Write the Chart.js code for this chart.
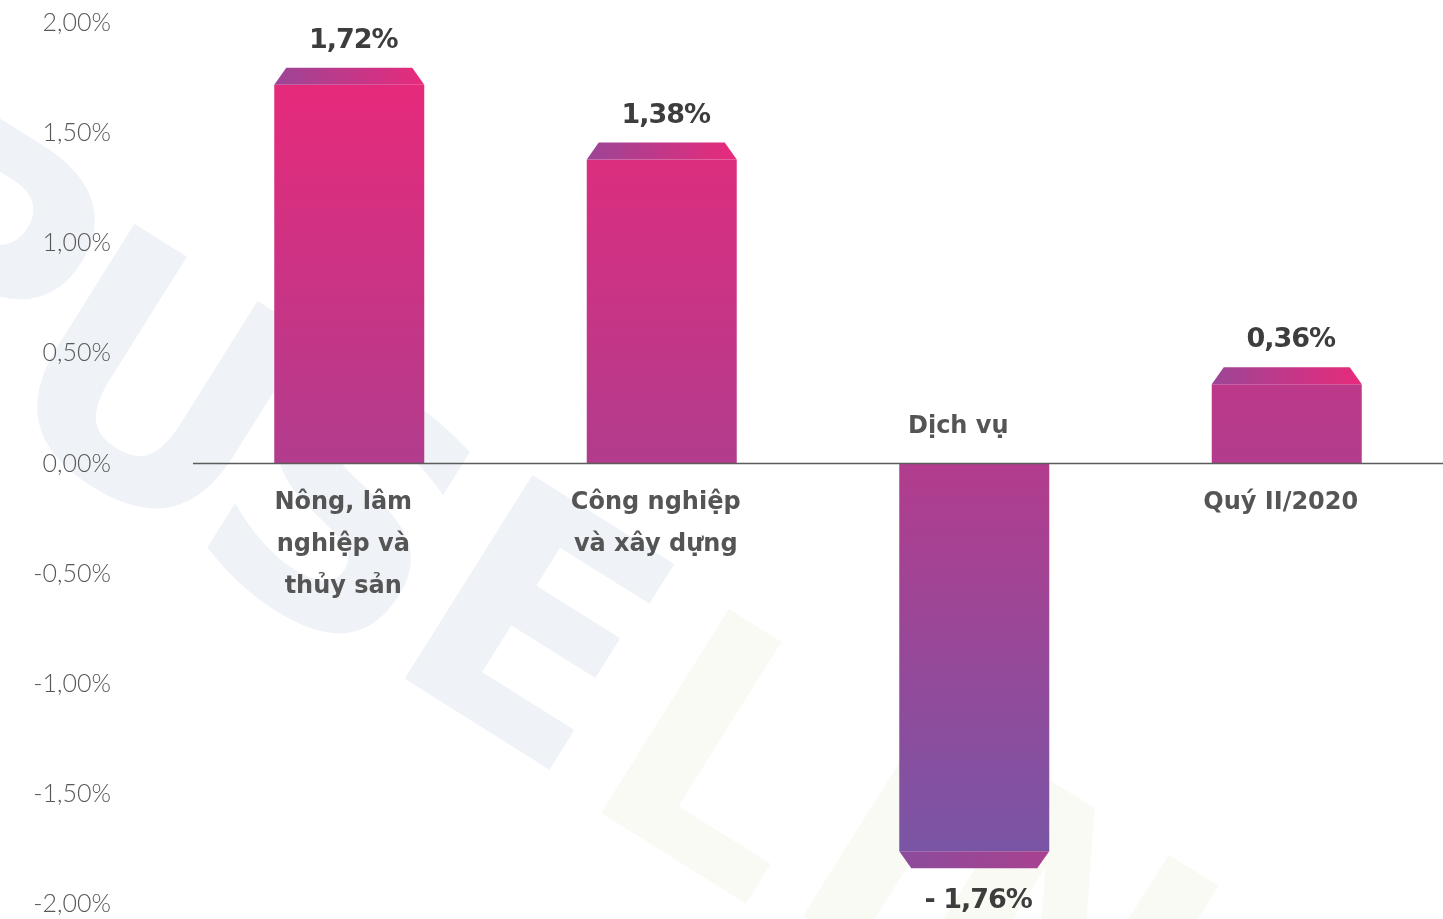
<!DOCTYPE html>
<html>
<head>
<meta charset="utf-8">
<script src="https://cdn.jsdelivr.net/npm/chart.js@4.4.1/dist/chart.umd.min.js"></script>
<style>
  html, body { margin: 0; padding: 0; background: #fff; }
  #wrap { width: 1443px; height: 919px; position: relative; }
</style>
</head>
<body>
<div id="wrap"><canvas id="chart"></canvas></div>
<script>
// Data
const categories = [
    ["Nông, lâm", "nghiệp và", "thủy sản"],
    ["Công nghiệp", "và xây dựng"],
    ["Dịch vụ"],
    ["Quý II/2020"]
]
const growth = [1.72, 1.38, -1.76, 0.36]
const yTicks = [-2, -1.5, -1, -0.5, 0, 0.5, 1, 1.5, 2]

const fmt = (v) => v.toFixed(2).replace(".", ",") + "%"
const fmtValue = (v) => (v < 0 ? "- " : "") + Math.abs(v).toFixed(2).replace(".", ",") + "%"

//Faint logo letters in the background
const watermark = {
    id: "watermark",
    beforeDraw(chart) {
        const ctx = chart.ctx
        const letters = [
            ["P", -50, 270, "#eff3f7"],
            ["U", 140, 410, "#eff3f7"],
            ["S", 325, 535, "#eff3f7"],
            ["E", 520, 650, "#eff3f7"],
            ["L", 710, 780, "#f9faf3"],
            ["I", 875, 860, "#f9faf3"],
            ["N", 1045, 960, "#f9faf3"]
        ]
        ctx.save()
        ctx.font = "bold 330px 'DejaVu Sans'"
        ctx.textAlign = "center"
        ctx.textBaseline = "middle"
        for (let [ch, x, y, col] of letters) {
            ctx.save()
            ctx.translate(x, y)
            ctx.rotate(0.56)
            ctx.fillStyle = col
            ctx.fillText(ch, 0, 0)
            ctx.restore()
        }
        ctx.restore()
    }
}

//Zero line, bar caps, value labels and category labels
const decorations = {
    id: "decorations",
    afterDatasetsDraw(chart) {
        const ctx = chart.ctx
        const area = chart.chartArea
        const yScale = chart.scales.y
        const zeroY = yScale.getPixelForValue(0)
        const meta = chart.getDatasetMeta(0)

        ctx.save()
        ctx.strokeStyle = "#5c5c5c"
        ctx.lineWidth = 1.5
        ctx.beginPath()
        ctx.moveTo(area.left, zeroY)
        ctx.lineTo(area.right, zeroY)
        ctx.stroke()

        const capH = 17
        const inset = 12
        meta.data.forEach((bar, i) => {
            const v = growth[i]
            const left = bar.x - bar.width / 2
            const right = bar.x + bar.width / 2
            const dir = v >= 0 ? -1 : 1
            const edge = bar.y
            const outer = edge + dir * capH

            let g = ctx.createLinearGradient(left, 0, right, 0)
            if (v >= 0) {
                g.addColorStop(0, "#9c4596")
                g.addColorStop(1, "#e82a7b")
            } else {
                g.addColorStop(0, "#8c4b9c")
                g.addColorStop(1, "#a8428f")
            }
            ctx.fillStyle = g
            ctx.beginPath()
            ctx.moveTo(left, edge)
            ctx.lineTo(right, edge)
            ctx.lineTo(right - inset, outer)
            ctx.lineTo(left + inset, outer)
            ctx.closePath()
            ctx.fill()

            //value label
            ctx.fillStyle = "#3d3d3d"
            ctx.font = "bold 27px 'DejaVu Sans'"
            ctx.letterSpacing = "-1px"
            ctx.textAlign = "center"
            ctx.textBaseline = "middle"
            ctx.fillText(fmtValue(v), bar.x + 4, outer + (v >= 0 ? -27 : 33))

            //category label
            ctx.fillStyle = "#555555"
            ctx.font = "bold 24px 'DejaVu Sans'"
            ctx.letterSpacing = "0px"
            const lines = categories[i]
            const lh = 42
            if (v >= 0) {
                lines.forEach((ln, k) => ctx.fillText(ln, bar.x - 6, zeroY + 39 + k * lh))
            } else {
                lines.slice().reverse().forEach((ln, k) => ctx.fillText(ln, bar.x - 16, zeroY - 37 - k * lh))
            }
        })
        ctx.restore()
    }
}

const barGradient = (context) => {
    const chart = context.chart
    const area = chart.chartArea
    if (!area) return "#b23c8d"
    let g = chart.ctx.createLinearGradient(0, area.top, 0, area.bottom)
    g.addColorStop(0, "#ee2778")
    g.addColorStop(0.5, "#b23c8d")
    g.addColorStop(0.94, "#7a55a5")
    g.addColorStop(1, "#7456a7")
    return g
}

const ctx = document.getElementById("chart").getContext("2d")
let growthChart = new Chart(ctx, {
    type: "bar",
    data: {
        labels: categories.map(c => c.join(" ")),
        datasets: [{
            data: growth,
            backgroundColor: barGradient,
            borderWidth: 0,
            categoryPercentage: 1,
            barPercentage: 0.48
        }]
    },
    options: {
        responsive: true,
        maintainAspectRatio: false,
        animation: false,
        layout: { padding: { top: 23, bottom: 15, left: 0, right: 0 } },
        plugins: { legend: { display: false }, tooltip: { enabled: false } },
        scales: {
            x: { display: false },
            y: {
                min: -2,
                max: 2,
                afterBuildTicks: (scale) => { scale.ticks = yTicks.map(v => ({ value: v })) },
                afterFit: (scale) => {
                    scale.width = 193
                    scale.paddingTop = 0
                    scale.paddingBottom = 0
                },
                grid: { display: false },
                border: { display: false },
                ticks: {
                    padding: 74,
                    color: "#585858",
                    font: { family: "Lato", size: 25, weight: "300" },
                    callback: (v) => fmt(v)
                }
            }
        }
    },
    plugins: [watermark, decorations]
})
</script>
</body>
</html>
